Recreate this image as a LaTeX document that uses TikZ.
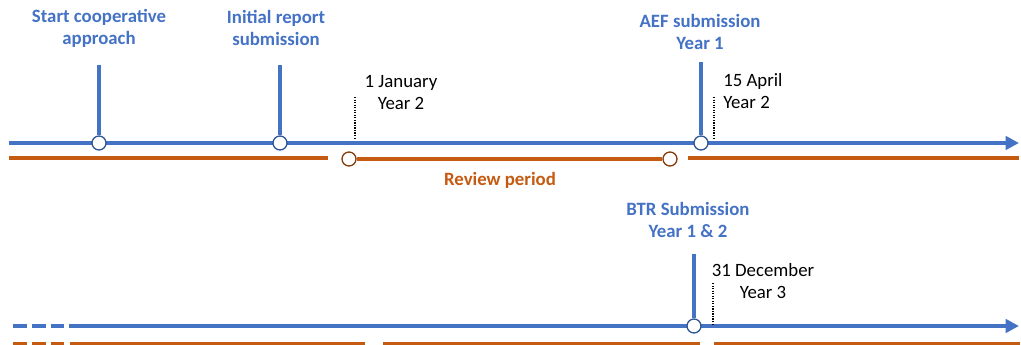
\documentclass[tikz,border=0pt]{standalone}
\usepackage{fontspec}
\setmainfont{Carlito}
\usetikzlibrary{arrows.meta}
\definecolor{tlblue}{HTML}{4472C4}
\definecolor{tldark}{HTML}{2F5597}
\definecolor{tlorange}{HTML}{C55A11}
\definecolor{tlbrown}{HTML}{843C0C}
\newcommand{\tlfont}{\fontsize{14.1}{16.5}\selectfont}
\tikzset{
  bluetrack/.style={line width=3pt, tlblue},
  orangetrack/.style={line width=3pt, tlorange},
  bluedot/.style={circle, draw=tldark, fill=white, line width=1pt, minimum size=10.5pt, inner sep=0pt},
  orangedot/.style={circle, draw=tlbrown, fill=white, line width=1pt, minimum size=10.5pt, inner sep=0pt},
  milestone/.style={font=\tlfont\bfseries, text=tlblue, align=center, inner sep=0pt},
  datelabel/.style={font=\tlfont, align=center, inner sep=0pt},
  datetick/.style={densely dotted, line width=0.9pt, black}
}
\begin{document}
\begin{tikzpicture}[x=0.75pt, y=-0.75pt]
        \useasboundingbox (0,0) rectangle (1021,345);

        % top timeline
        \coordinate (t0) at (9,143);
        \coordinate (t1) at (1019,143);
        \coordinate (o0) at (9,158);
        \coordinate (o1) at (328,158);
        \coordinate (o2) at (688,158);
        \coordinate (o3) at (1019,158);
        \coordinate (v1) at (99,65);
        \coordinate (v2) at (280,65);
        \coordinate (v3) at (701,62);
        \coordinate (d1a) at (355,97);
        \coordinate (d1b) at (355,140);
        \coordinate (d2a) at (714,97);
        \coordinate (d2b) at (714,140);

        \draw[bluetrack, -{Triangle[length=10pt, width=10pt]}] (t0)--(t1);
        \draw[orangetrack] (o0)--(o1);
        \draw[orangetrack] (o2)--(o3);
        \node[orangedot] (r1) at (349,159) {};
        \node[orangedot] (r2) at (670,159) {};
        \draw[orangetrack] (r1)--(r2);

        \node[bluedot] (m1) at (99,143) {};
        \node[bluedot] (m2) at (280,143) {};
        \node[bluedot] (m3) at (701,143) {};
        \draw[bluetrack] (v1)--(m1);
        \draw[bluetrack] (v2)--(m2);
        \draw[bluetrack] (v3)--(m3);

        \node[milestone] (l1) at (99,28) {Start cooperative\\approach};
        \node[milestone] (l2) at (276,28) {Initial report\\submission};
        \node[milestone] (l3) at (700,32) {AEF submission\\Year 1};
        \node[font=\tlfont\bfseries, text=tlorange, inner sep=0pt] (rev) at (500,180) {Review period};

        \draw[datetick] (d1a)--(d1b);
        \draw[datetick] (d2a)--(d2b);
        \node[datelabel] (jan) at (401,93) {1 January\\Year 2};
        \node[datelabel, align=left, anchor=west] (apr) at (723,91) {15 April\\Year 2};

        % bottom timeline
        \coordinate (b0) at (69,326);
        \coordinate (b1) at (1019,326);
        \coordinate (p0) at (70,344);
        \coordinate (p1) at (365,344);
        \coordinate (p2) at (383,344);
        \coordinate (p3) at (700,344);
        \coordinate (p4) at (714,344);
        \coordinate (p5) at (1020,344);
        \coordinate (v4) at (694,254);
        \coordinate (d3a) at (713,283);
        \coordinate (d3b) at (713,324);

        \foreach \xa/\xb in {13/27, 32/46, 51/64} {
          \draw[bluetrack] (\xa,326)--(\xb,326);
          \draw[orangetrack] (\xa,344)--(\xb,344);
        }
        \draw[bluetrack, -{Triangle[length=10pt, width=10pt]}] (b0)--(b1);
        \draw[orangetrack] (p0)--(p1);
        \draw[orangetrack] (p2)--(p3);
        \draw[orangetrack] (p4)--(p5);

        \node[bluedot] (m4) at (694,326) {};
        \draw[bluetrack] (v4)--(m4);
        \node[milestone] (l4) at (688,220) {BTR Submission\\Year 1 \& 2};

        \draw[datetick] (d3a)--(d3b);
        \node[datelabel] (dec) at (763,281) {31 December\\Year 3};

\end{tikzpicture}
\end{document}
